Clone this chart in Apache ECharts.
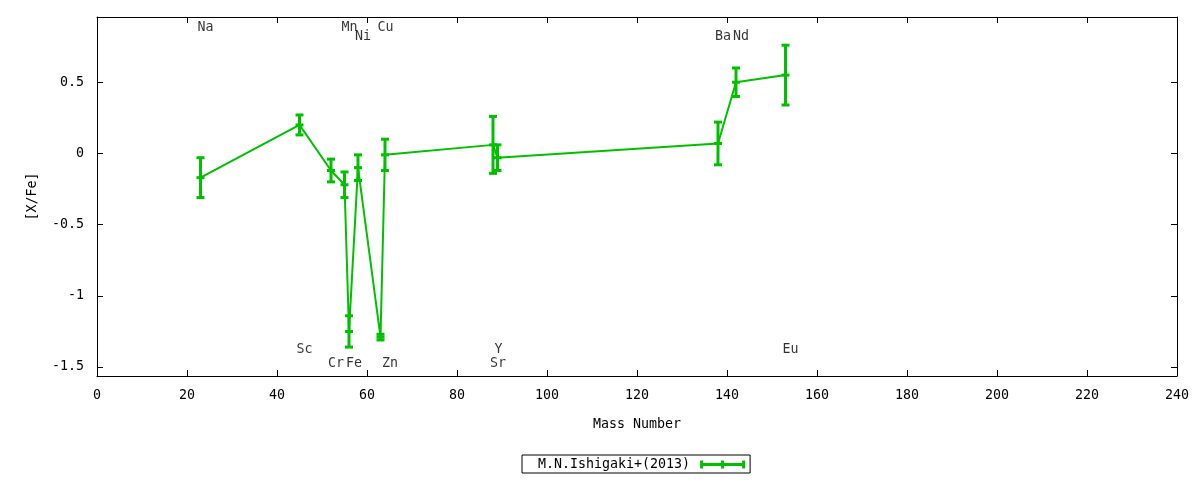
<!DOCTYPE html>
<html><head><meta charset="utf-8">
<script src="https://cdn.jsdelivr.net/npm/echarts@6/dist/echarts.min.js"></script>
<style>html,body{margin:0;padding:0;background:#fff}#c{width:1200px;height:480px}</style>
</head><body><div id="c"></div>
<script>
// ---- data ----
const seriesName = 'M.N.Ishigaki+(2013)';
const elements     = ['Na','Sc','Cr','Mn','Fe','Ni','Cu','Zn','Sr','Y','Ba','Nd','Eu'];
const massNumbers  = [23, 45, 52, 55, 56, 58, 63, 64, 88, 89, 138, 142, 153];
const abundances   = [-0.17, 0.20, -0.12, -0.22, -1.25, -0.10, -1.29, -0.01, 0.06, -0.03, 0.07, 0.50, 0.55];
const errors       = [0.14, 0.07, 0.08, 0.09, 0.11, 0.09, 0.02, 0.11, 0.20, 0.09, 0.15, 0.10, 0.21];
const labelRows    = ['top','bottom','bottom2','top','bottom2','top2','top','bottom2','bottom2','bottom','top2','top2','bottom'];
const xTickValues  = [0,20,40,60,80,100,120,140,160,180,200,220,240];
const yTickValues  = [-1.5,-1,-0.5,0,0.5];

// ---- layout / style ----
const FONT = 'DejaVu Sans Mono';
const FS = 13.3;
const GREEN = '#00c000';
const X_MIN = 0, X_MAX = 240, X_STEP = 20;
const Y_MIN = -1.563, Y_MAX = 0.958;
const rowY = { top: 0.886, top2: 0.819, bottom: -1.380, bottom2: -1.477 };

const chart = echarts.init(document.getElementById('c'), null, { renderer: 'canvas' });

const lineData = massNumbers.map((m, i) => [m, abundances[i]]);
const errData  = massNumbers.map((m, i) => [m, abundances[i], errors[i]]);
const lblData  = elements.map((el, i) => ({ name: el, value: [massNumbers[i], rowY[labelRows[i]]] }));

const axisCommon = {
  axisLine: { show: true, onZero: false, lineStyle: { color: '#000', width: 1 } },
  axisTick: { show: true, inside: true, length: 6, lineStyle: { color: '#000', width: 1 } },
  splitLine: { show: false },
  axisLabel: { color: '#000', fontFamily: FONT, fontSize: FS }
};

chart.setOption({
  animation: false,
  backgroundColor: '#fff',
  textStyle: { fontFamily: FONT },
  grid: { left: 97, right: 23, top: 17, height: 359 },
  xAxis: [
    Object.assign({}, axisCommon, {
      type: 'value', min: X_MIN, max: X_MAX, interval: X_STEP, position: 'bottom',
      name: 'Mass Number', nameLocation: 'middle', nameGap: 42,
      nameTextStyle: { color: '#000', fontFamily: FONT, fontSize: FS },
      axisLabel: Object.assign({}, axisCommon.axisLabel, { margin: 13, showMinLabel: true, showMaxLabel: true })
    }),
    Object.assign({}, axisCommon, {
      type: 'value', min: X_MIN, max: X_MAX, interval: X_STEP, position: 'top',
      axisLabel: { show: false }
    })
  ],
  yAxis: [
    Object.assign({}, axisCommon, {
      type: 'value', min: Y_MIN, max: Y_MAX, position: 'left',
      name: '[X/Fe]', nameLocation: 'middle', nameRotate: 90, nameGap: 58,
      nameTextStyle: { color: '#000', fontFamily: FONT, fontSize: FS },
      axisTick: Object.assign({}, axisCommon.axisTick, { customValues: yTickValues }),
      axisLabel: Object.assign({}, axisCommon.axisLabel, { margin: 13, customValues: yTickValues })
    }),
    Object.assign({}, axisCommon, {
      type: 'value', min: Y_MIN, max: Y_MAX, position: 'right',
      axisTick: Object.assign({}, axisCommon.axisTick, { customValues: yTickValues }),
      axisLabel: { show: false }
    })
  ],
  legend: {
    data: [seriesName],
    left: 522, top: 455,
    align: 'right',
    icon: 'path://M0,0L3,0L3,2.5L21,2.5L21,0L24,0L24,2.5L42,2.5L42,0L45,0L45,8L42,8L42,5.5L24,5.5L24,8L21,8L21,5.5L3,5.5L3,8L0,8Z',
    itemWidth: 45, itemHeight: 8,
    borderColor: '#000', borderWidth: 1, borderRadius: 0,
    padding: [3, 5, 2, 16],
    itemStyle: { color: GREEN, borderWidth: 0 },
    textStyle: { color: '#000', fontFamily: FONT, fontSize: FS, padding: [0, 5, 0, 0] }
  },
  series: [
    {
      name: seriesName, type: 'line', data: lineData,
      symbol: 'none', lineStyle: { color: GREEN, width: 2 }, itemStyle: { color: GREEN },
      z: 2
    },
    {
      name: 'errorbars', type: 'custom', data: errData,
      encode: { x: 0, y: 1 },
      z: 3,
      renderItem: function (params, api) {
        const x = api.value(0), y = api.value(1), e = api.value(2);
        const hi = api.coord([x, y + e]), lo = api.coord([x, y - e]), mid = api.coord([x, y]);
        const hw = 4;
        const st = { stroke: GREEN, lineWidth: 3, fill: null };
        return {
          type: 'group',
          children: [
            { type: 'line', shape: { x1: mid[0], y1: hi[1], x2: mid[0], y2: lo[1] }, style: st },
            { type: 'line', shape: { x1: mid[0] - hw, y1: hi[1], x2: mid[0] + hw, y2: hi[1] }, style: st },
            { type: 'line', shape: { x1: mid[0] - hw, y1: lo[1], x2: mid[0] + hw, y2: lo[1] }, style: st },
            { type: 'line', shape: { x1: mid[0] - hw, y1: mid[1], x2: mid[0] + hw, y2: mid[1] }, style: st }
          ]
        };
      }
    },
    {
      name: 'labels', type: 'scatter', data: lblData,
      symbolSize: 0, silent: true,
      label: {
        show: true, formatter: '{b}', position: [-3, 0], align: 'left', verticalAlign: 'middle',
        color: '#000', fontFamily: FONT, fontSize: FS
      }
    }
  ]
});
</script>
</body></html>
